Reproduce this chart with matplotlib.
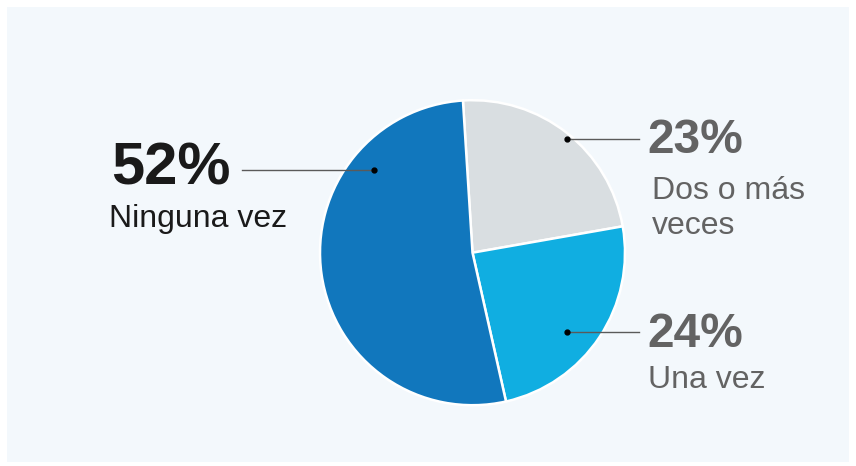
import matplotlib
matplotlib.use("Agg")
import matplotlib.pyplot as plt
import numpy as np
from matplotlib.patches import Rectangle

plt.rcParams['font.family'] = ['Liberation Sans', 'DejaVu Sans']

# ---- data ----
categories = ["Dos o más veces", "Una vez", "Ninguna vez"]
values = [23, 24, 52]
pct_labels = ["23%", "24%", "52%"]
label_lines = [["Dos o más", "veces"], ["Una vez"], ["Ninguna vez"]]

# ---- style ----
colors = ["#D9DEE1", "#10AEE1", "#1177BD"]
pct_colors = ["#636363", "#636363", "#1A1A1A"]
W, H = 856, 466
fig = plt.figure(figsize=(W / 100, H / 100), dpi=100)
fig.patch.set_facecolor("white")
fig.patches.append(Rectangle((7 / W, 4 / H), 842 / W, 455 / H, transform=fig.transFigure,
                             facecolor="#F3F8FC", edgecolor="none", zorder=-10))

cx, cy, R = 472.5, 252.7, 152.5
ax = fig.add_axes([(cx - R) / W, (H - cy - R) / H, 2 * R / W, 2 * R / H])
ax.set_zorder(5)
ax.patch.set_alpha(0)

wedges, _ = ax.pie(values, colors=colors, startangle=93.6, counterclock=False, radius=1,
                   wedgeprops=dict(edgecolor="white", linewidth=1.8))
ax.set_xlim(-1, 1)
ax.set_ylim(-1, 1)
ax.set_aspect("equal")
ax.axis("off")

def px2d(px, py):
    return (px - cx) / R, (cy - py) / R

# label anchor (angle deg, radius fraction), line end x px, pct pos, label pos
anchors = [(50.2, 0.968), (-40.2, 0.81), (140.0, 0.846)]
line_end_px = [639, 639, 241.7]
pct_pos = [(647, 153), (647, 346.7), (111, 185)]
pct_sizes = [34.5, 34.5, 43]
label_pos = [(652, 199.3), (648, 388.3), (109, 226.7)]
line_gap = 34.7

for i in range(len(values)):
    a, rf = anchors[i]
    dx, dy = rf * np.cos(np.radians(a)), rf * np.sin(np.radians(a))
    ex, _ = px2d(line_end_px[i], 0)
    ax.plot([dx, ex], [dy, dy], color="#5A5A5A", lw=1.0, clip_on=False, zorder=5)
    ax.plot([dx], [dy], marker="o", ms=3.5, color="black", clip_on=False, zorder=6)
    px, py = pct_pos[i]
    fig.text(px / W, 1 - py / H, pct_labels[i], fontsize=pct_sizes[i], fontweight="bold",
             color=pct_colors[i], va="baseline", ha="left")
    lx, ly = label_pos[i]
    for j, line in enumerate(label_lines[i]):
        fig.text(lx / W, 1 - (ly + j * line_gap) / H, line, fontsize=23,
                 color=pct_colors[i], va="baseline", ha="left")

fig.savefig("out.png", dpi=100, facecolor=fig.get_facecolor())
